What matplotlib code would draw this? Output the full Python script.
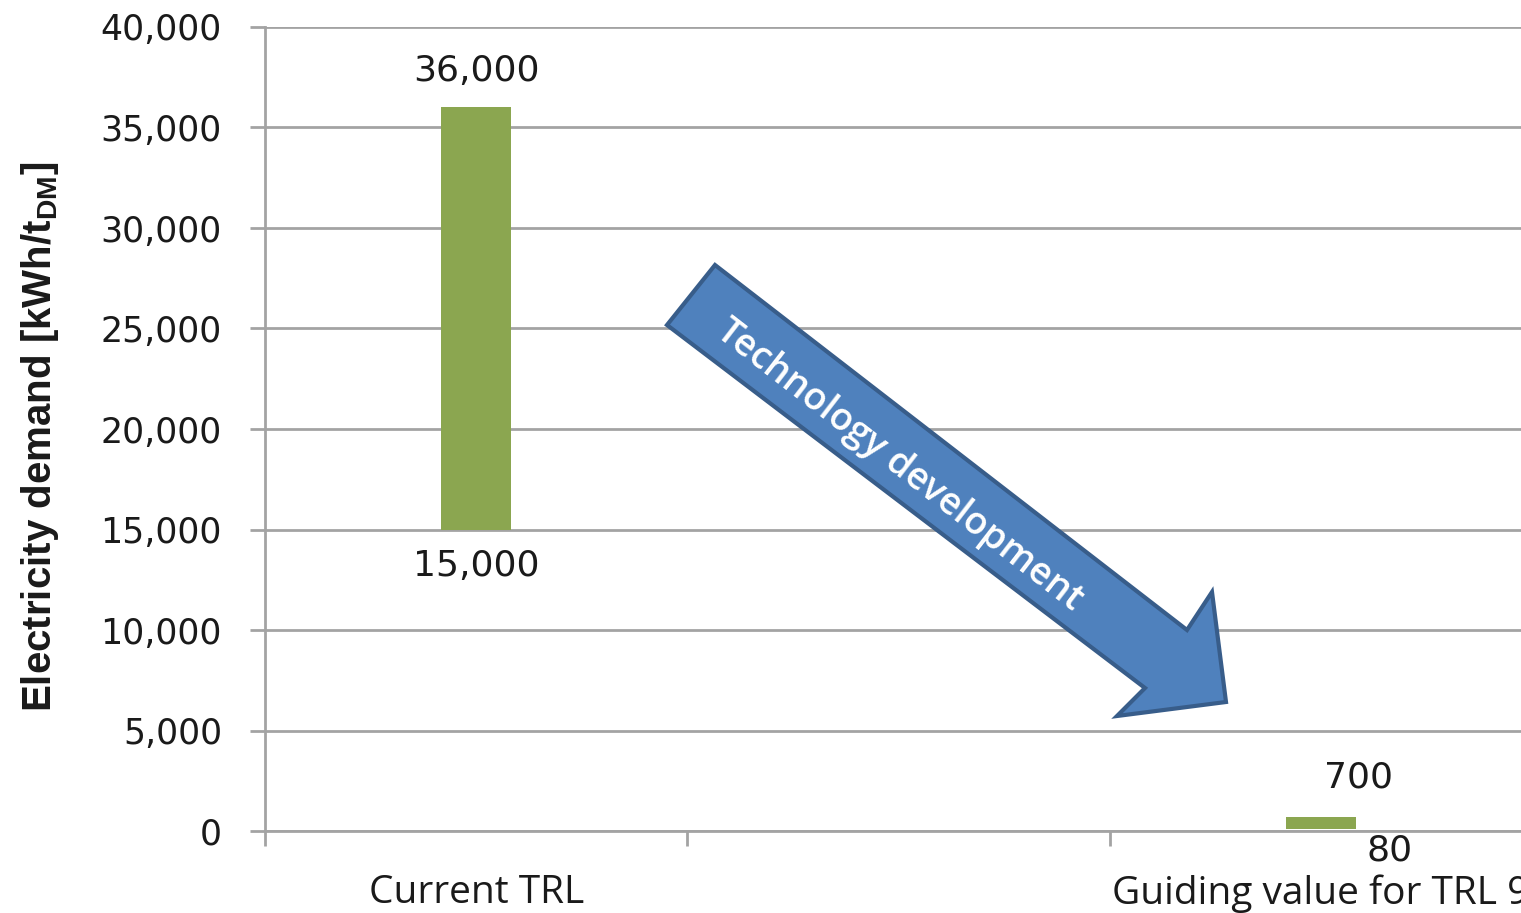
import numpy as np
import matplotlib.pyplot as plt
from matplotlib.patches import Polygon
from matplotlib.ticker import FuncFormatter

# Electricity demand ranges (kWh per t dry matter)
categories = ['Current TRL', '', 'Guiding value for TRL 9']
low_values = [15000, None, 80]
high_values = [36000, None, 700]

# label offsets in pixels (dx, dy) for the upper and lower value labels
top_offsets = [(0, 36), None, (38, 39)]
bottom_offsets = [(0, -36), None, (69, -21)]

W, H = 1521, 913
plt.rcParams['mathtext.fontset'] = 'custom'
plt.rcParams['mathtext.rm'] = 'Liberation Sans:bold'
plt.rcParams['mathtext.it'] = 'Liberation Sans:bold'
plt.rcParams['mathtext.bf'] = 'Liberation Sans:bold'

fig = plt.figure(figsize=(W / 100, H / 100), dpi=100)
ax = fig.add_axes([265 / W, 82 / H, 1267 / W, 804 / H])

grey = '#a3a3a3'
bar_color = '#8BA650'
text_color = '#1a1a1a'

x = np.arange(len(categories))
for i, (lo, hi) in enumerate(zip(low_values, high_values)):
    if lo is None:
        continue
    ax.bar(x[i], hi - lo, bottom=lo, width=0.166, color=bar_color, zorder=3)
    ax.annotate(f'{hi:,}', (x[i], hi), xytext=top_offsets[i], textcoords='offset pixels',
                ha='center', va='center', fontsize=26, color=text_color, family='DejaVu Sans')
    ax.annotate(f'{lo:,}', (x[i], lo), xytext=bottom_offsets[i], textcoords='offset pixels',
                ha='center', va='center', fontsize=26, color=text_color, family='DejaVu Sans')

ax.set_xlim(-0.5, len(categories) - 0.5)
ax.set_ylim(0, 40000)
ax.set_yticks(np.arange(0, 40001, 5000))
ax.yaxis.set_major_formatter(FuncFormatter(lambda v, p: f'{int(v):,}'))
ax.grid(axis='y', color=grey, linewidth=2, zorder=0)

# category boundaries as major ticks, names on minor ticks
ax.set_xticks(np.arange(-0.5, len(categories), 1.0))
ax.set_xticklabels([])
ax.set_xticks(x, minor=True)
ax.set_xticklabels(categories, minor=True, fontsize=28, color=text_color, family='Open Sans')
ax.tick_params(axis='x', which='major', length=11, width=2, color=grey)
ax.tick_params(axis='x', which='minor', length=0, pad=31)
ax.tick_params(axis='y', length=11, width=2, color=grey, pad=20, labelsize=25,
               labelcolor=text_color)

for side in ['top', 'right']:
    ax.spines[side].set_visible(False)
for side in ['left', 'bottom']:
    ax.spines[side].set_color(grey)
    ax.spines[side].set_linewidth(2)

ax.set_ylabel(r'Electricity demand [kWh/t$_{\mathrm{DM}}$]', fontsize=29, fontweight='bold',
              family=['Liberation Sans', 'DejaVu Sans'], color=text_color)
ax.yaxis.set_label_coords(-0.161, 0.49)

# "Technology development" arrow drawn in pixel space
arrow_px = [(715, 265), (1187, 630), (1212, 592), (1226, 702),
            (1117, 716), (1145, 688), (667, 325)]
arrow_fig = [(px / W, 1 - py / H) for px, py in arrow_px]
fig.patches.append(Polygon(arrow_fig, closed=True, transform=fig.transFigure,
                           facecolor='#4F81BD', edgecolor='#385D8A', linewidth=3, zorder=5))
fig.text(900 / W, 1 - 465 / H, 'Technology development', rotation=-37.7,
         rotation_mode='anchor', ha='center', va='center', fontsize=27,
         fontweight='semibold', color='white', family='Open Sans', zorder=6)

fig.savefig('out.png', dpi=100)
